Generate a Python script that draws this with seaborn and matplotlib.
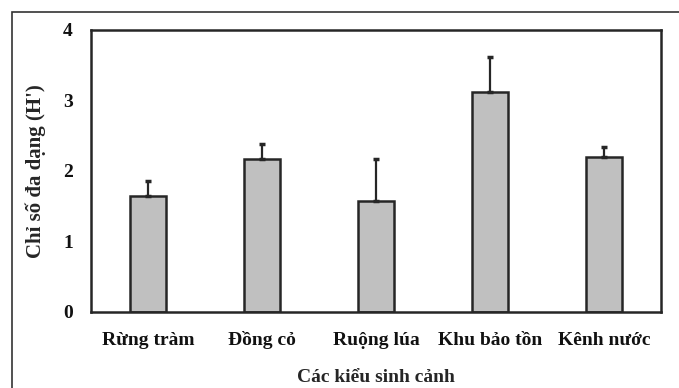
import numpy as np
import pandas as pd
import seaborn as sns
import matplotlib.pyplot as plt
from matplotlib.patches import Rectangle

habitats = ['Rừng tràm', 'Đồng cỏ', 'Ruộng lúa', 'Khu bảo tồn', 'Kênh nước']
h_index = [1.64, 2.16, 1.57, 3.12, 2.19]
h_err = [0.21, 0.22, 0.60, 0.49, 0.15]
y_ticks = [0, 1, 2, 3, 4]

sns.set_style("white")
plt.rcParams['font.family'] = ['Liberation Serif', 'DejaVu Serif']
plt.rcParams['font.weight'] = 'bold'

df = pd.DataFrame({'habitat': habitats, 'H': h_index, 'err': h_err})

fig = plt.figure(figsize=(6.79, 3.88), dpi=100)
ax = fig.add_axes([91 / 679, 1 - 312 / 388, (661 - 91) / 679, (312 - 29.5) / 388])

sns.barplot(data=df, x='habitat', y='H', color='#c0c0c0', width=0.32,
            edgecolor='#262626', linewidth=1.8, saturation=1, ax=ax)
pos = np.arange(len(habitats))
ax.errorbar(pos, df['H'], yerr=[np.zeros(len(h_err)), df['err']], fmt='none',
            ecolor='#262626', elinewidth=1.6, capsize=2, capthick=2.5, zorder=3)

ax.set_ylim(0, 4)
ax.set_xlim(-0.5, len(habitats) - 0.5)
ax.set_yticks(y_ticks)
ax.tick_params(axis='both', length=0, labelsize=14, colors='#111111')
ax.tick_params(axis='y', pad=13)
ax.tick_params(axis='x', pad=24)
for lbl in ax.get_xticklabels():
    lbl.set_verticalalignment('baseline')
for s in ax.spines.values():
    s.set_visible(True)
    s.set_color('#262626')
    s.set_linewidth(1.8)

ax.set_xlabel('Các kiểu sinh cảnh', fontsize=14, fontweight='bold', labelpad=14)
ax.set_ylabel("Chỉ số đa dạng (H')", fontsize=15, fontweight='bold', labelpad=12)

fig.patches.append(Rectangle((11.5 / 679, -0.1), 1.2, 1.1 - 12 / 388, transform=fig.transFigure,
                             fill=False, edgecolor='#333333', linewidth=1.2))

fig.savefig('out.png', dpi=100)
